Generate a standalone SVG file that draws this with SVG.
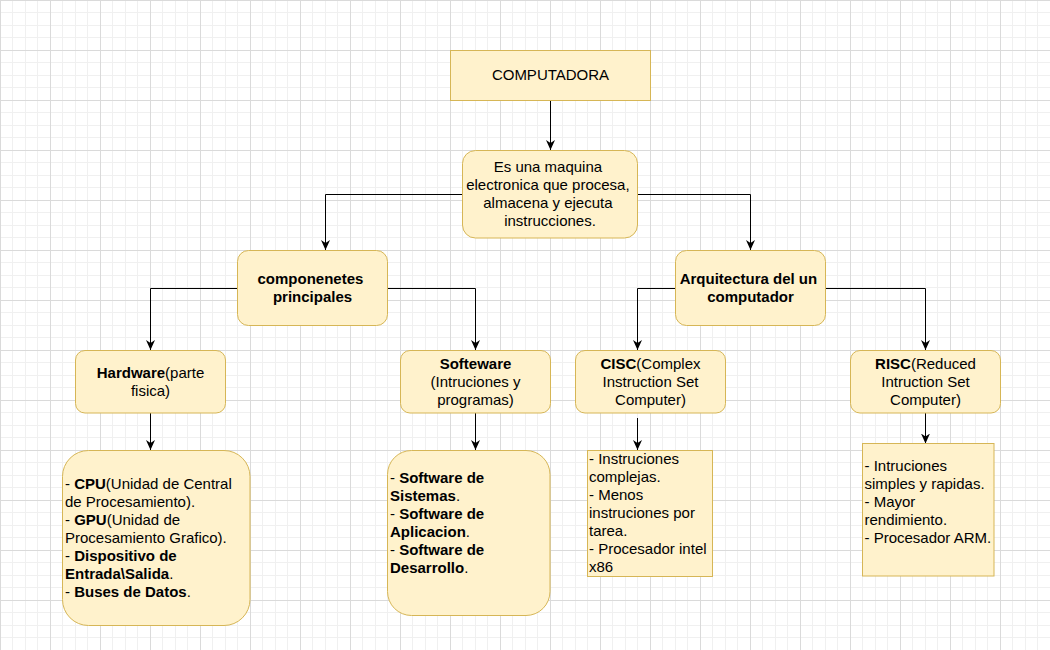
<svg xmlns="http://www.w3.org/2000/svg" width="1050" height="650" viewBox="0 0 1050 650">
<defs>
<pattern id="grid" x="0" y="0" width="50" height="50" patternUnits="userSpaceOnUse">
<path d="M12.5,0 V50 M25.5,0 V50 M37.5,0 V50 M0,12.5 H50 M0,25.5 H50 M0,37.5 H50" stroke="#f0f0f0" stroke-width="1" fill="none"/>
<path d="M0.5,0 V50 M0,0.5 H50" stroke="#dadada" stroke-width="1" fill="none"/>
</pattern>
<marker id="arrow" viewBox="0 0 10 10" markerWidth="10" markerHeight="10" markerUnits="userSpaceOnUse" refX="10" refY="5" orient="auto">
<path d="M0,0.5 L10,5 L0,9.5 L3,5 z" fill="#000"/>
</marker>
<style>
.box{fill:#fff2cc;stroke:#d6b656;stroke-width:1}
.t{font-family:"Liberation Sans",Arial,Helvetica,sans-serif;font-size:15px;fill:#000}
.c{text-anchor:middle}
.b{font-weight:bold}
.edge{fill:none;stroke:#000;stroke-width:1;marker-end:url(#arrow)}
</style>
</defs>
<rect x="0" y="0" width="1050" height="650" fill="#ffffff"/>
<rect x="0" y="0" width="1050" height="650" fill="url(#grid)"/>

<g id="connectors">
<path class="edge" d="M550.5,100 V150"/>
<path class="edge" d="M462.5,194.5 H325.5 V250"/>
<path class="edge" d="M637.5,194.5 H750.5 V250"/>
<path class="edge" d="M237.5,288.5 H150.5 V350"/>
<path class="edge" d="M387.5,288.5 H475.5 V350"/>
<path class="edge" d="M675,288.5 H637.5 V350"/>
<path class="edge" d="M825,288.5 H925.5 V350"/>
<path class="edge" d="M150.5,412.5 V450"/>
<path class="edge" d="M475.5,412.5 V450"/>
<path class="edge" d="M637.5,418 V450"/>
<path class="edge" d="M925.5,412.5 V443.5"/>
</g>

<g id="computadora">
<rect class="box" x="450.5" y="50.5" width="200" height="50"/>
<text class="t c" x="550.5" y="80">COMPUTADORA</text>
</g>

<g id="definicion">
<rect class="box" x="462.5" y="150.5" width="175" height="87.5" rx="13" ry="13"/>
<text class="t c">
<tspan x="550" y="172">Es una maquina</tspan>
<tspan x="550" y="190">electronica que procesa,</tspan>
<tspan x="550" y="208">almacena y ejecuta</tspan>
<tspan x="550" y="226">instrucciones.</tspan>
</text>
</g>

<g id="componentes">
<rect class="box" x="237.5" y="250.5" width="150" height="75" rx="11" ry="11"/>
<text class="t c b">
<tspan x="312.5" y="284">componenetes</tspan>
<tspan x="312.5" y="302">principales</tspan>
</text>
</g>

<g id="arquitectura">
<rect class="box" x="675.5" y="250.5" width="150" height="75" rx="11" ry="11"/>
<text class="t c b">
<tspan x="750.5" y="284">Arquitectura del un</tspan>
<tspan x="750.5" y="302">computador</tspan>
</text>
</g>

<g id="hardware">
<rect class="box" x="75.5" y="350.5" width="150" height="62.5" rx="9.5" ry="9.5"/>
<text class="t c"><tspan x="150.5" y="378"><tspan class="b">Hardware</tspan>(parte</tspan><tspan x="150.5" y="396">fisica)</tspan></text>
</g>

<g id="software">
<rect class="box" x="400.5" y="350.5" width="150" height="62.5" rx="9.5" ry="9.5"/>
<text class="t c"><tspan x="475.5" y="369" class="b">Softeware</tspan><tspan x="475.5" y="387">(Intruciones y</tspan><tspan x="475.5" y="405">programas)</tspan></text>
</g>

<g id="cisc">
<rect class="box" x="575.5" y="350.5" width="150" height="62.5" rx="9.5" ry="9.5"/>
<text class="t c"><tspan x="650.5" y="369"><tspan class="b">CISC</tspan>(Complex</tspan><tspan x="650.5" y="387">Instruction Set</tspan><tspan x="650.5" y="405">Computer)</tspan></text>
</g>

<g id="risc">
<rect class="box" x="850.5" y="350.5" width="150" height="62.5" rx="9.5" ry="9.5"/>
<text class="t c"><tspan x="925.5" y="369"><tspan class="b">RISC</tspan>(Reduced</tspan><tspan x="925.5" y="387">Intruction Set</tspan><tspan x="925.5" y="405">Computer)</tspan></text>
</g>

<g id="hardware-lista">
<rect class="box" x="62.5" y="450.5" width="187.5" height="175" rx="26" ry="26"/>
<text class="t">
<tspan x="65" y="489">- <tspan class="b">CPU</tspan>(Unidad de Central</tspan>
<tspan x="65" y="507">de Procesamiento).</tspan>
<tspan x="65" y="525">- <tspan class="b">GPU</tspan>(Unidad de</tspan>
<tspan x="65" y="543">Procesamiento Grafico).</tspan>
<tspan x="65" y="561">- <tspan class="b">Dispositivo de</tspan></tspan>
<tspan x="65" y="579"><tspan class="b">Entrada\Salida</tspan>.</tspan>
<tspan x="65" y="597">- <tspan class="b">Buses de Datos</tspan>.</tspan>
</text>
</g>

<g id="software-lista">
<rect class="box" x="387.5" y="450.5" width="162.5" height="165" rx="24" ry="24"/>
<text class="t">
<tspan x="390" y="483">- <tspan class="b">Software de</tspan></tspan>
<tspan x="390" y="501"><tspan class="b">Sistemas</tspan>.</tspan>
<tspan x="390" y="519">- <tspan class="b">Software de</tspan></tspan>
<tspan x="390" y="537"><tspan class="b">Aplicacion</tspan>.</tspan>
<tspan x="390" y="555">- <tspan class="b">Software de</tspan></tspan>
<tspan x="390" y="573"><tspan class="b">Desarrollo</tspan>.</tspan>
</text>
</g>

<g id="cisc-lista">
<rect class="box" x="587.5" y="450.5" width="125" height="126"/>
<text class="t">
<tspan x="589" y="464">- Instruciones</tspan>
<tspan x="589" y="482">complejas.</tspan>
<tspan x="589" y="500">- Menos</tspan>
<tspan x="589" y="518">instruciones por</tspan>
<tspan x="589" y="536">tarea.</tspan>
<tspan x="589" y="554">- Procesador intel</tspan>
<tspan x="589" y="572">x86</tspan>
</text>
</g>

<g id="risc-lista">
<rect class="box" x="862.5" y="443.5" width="131.5" height="132.5"/>
<text class="t">
<tspan x="864.5" y="470.5">- Intruciones</tspan>
<tspan x="864.5" y="488.5">simples y rapidas.</tspan>
<tspan x="864.5" y="506.5">- Mayor</tspan>
<tspan x="864.5" y="524.5">rendimiento.</tspan>
<tspan x="864.5" y="542.5">- Procesador ARM.</tspan>
</text>
</g>
</svg>
